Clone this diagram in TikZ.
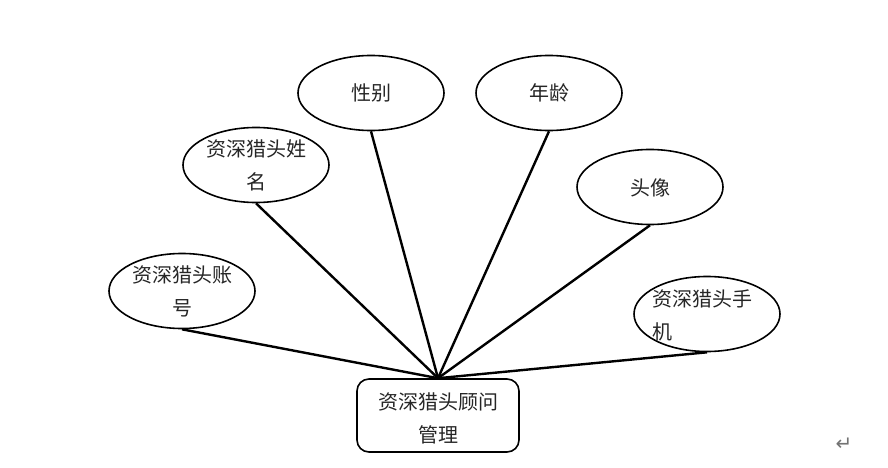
\documentclass[tikz,border=0pt]{standalone}
\usepackage{fontspec}
\setmainfont{Noto Sans CJK SC}
\newfontfamily\symfont{DejaVu Sans}
\usetikzlibrary{shapes.geometric}
\tikzset{
  attr/.style={draw=black, line width=1.6pt, ellipse, minimum width=146pt, minimum height=75pt, inner sep=0pt},
  lbl/.style={inner sep=0pt, font=\fontsize{20}{33}\selectfont, text=black!85},
  ent/.style={draw=black, line width=1.6pt, rounded corners=12pt, minimum width=162pt, minimum height=73pt, inner sep=0pt},
  conn/.style={line width=2.4pt, black}
}
\begin{document}
\begin{tikzpicture}[x=1pt,y=-1pt]
\path[use as bounding box, fill=white] (0,0) rectangle (888,468);
\node[ent] (m) at (438,415.5) {};
\node[lbl, align=center] (mt) at (438,418) {资深猎头顾问\\管理};
\node[attr] (xb) at (371,93) {};
\node[lbl] (xbt) at (371,93) {性别};
\node[attr] (nl) at (549,93) {};
\node[lbl] (nlt) at (549,93) {年龄};
\node[attr] (xm) at (256,165) {};
\node[lbl, align=center] (xmt) at (256,165) {资深猎头姓\\名};
\node[attr] (tx) at (650,187) {};
\node[lbl] (txt) at (650,188) {头像};
\node[attr] (zh) at (182,291) {};
\node[lbl, align=center] (zht) at (182,291.5) {资深猎头账\\号};
\node[attr] (sj) at (707,314) {};
\node[lbl, align=left, text width=110pt] (sjt) at (707,315) {资深猎头手\\机};
\draw[conn] (xb.south) -- (m.north);
\draw[conn] (nl.south) -- (m.north);
\draw[conn] (xm.south) -- (m.north);
\draw[conn] (tx.south) -- (m.north);
\draw[conn] (zh.south) -- (m.north);
\draw[conn] (sj.south) -- (m.north);
\node[inner sep=0pt, text=black!55, font=\symfont\fontsize{20}{20}\selectfont] (ret) at (844,444) {↵};
\end{tikzpicture}
\end{document}
